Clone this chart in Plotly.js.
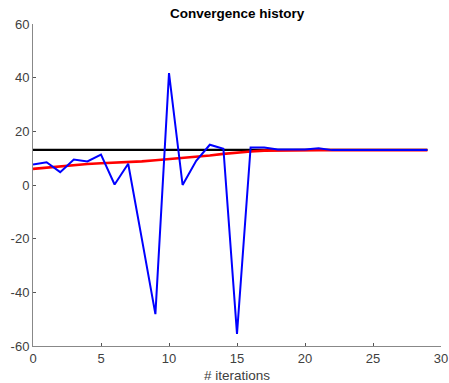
<!DOCTYPE html>
<html>
<head>
<meta charset="utf-8">
<script src="https://cdn.plot.ly/plotly-3.0.1.min.js"></script>
<style>html,body{margin:0;padding:0;background:#fff;}#chart{width:449px;height:383px;}</style>
</head>
<body>
<div id="chart"></div>
<script>
const iterations = [0,1,2,3,4,5,6,7,8,9,10,11,12,13,14,15,16,17,18,19,20,21,22,23,24,25,26,27,28,29];
const blueValues = [7.6,8.5,4.8,9.5,8.8,11.3,0.2,7.9,-20,-48.1,41.7,0,9,15.0,13.5,-55.5,14.0,14.0,13.2,13.2,13.2,13.7,13.0,13.0,13.0,13.0,13.0,13.0,13.0,13.0];
const redValues = [6.0,6.5,7.0,7.4,7.8,8.1,8.3,8.5,8.8,9.2,9.6,10.0,10.4,11.0,11.6,12.1,12.5,12.8,12.9,13.0,13.0,13.0,13.0,13.0,13.0,13.0,13.0,13.0,13.0,13.0];
const blackValues = iterations.map(() => 13.1);
const xTicks = [0,5,10,15,20,25,30];
const yTicks = [-60,-40,-20,0,20,40,60];

const traces = [
  {x: iterations, y: blackValues, mode: 'lines', line: {color: '#000000', width: 2.2}},
  {x: iterations, y: redValues, mode: 'lines', line: {color: '#ff0000', width: 2.6}},
  {x: iterations, y: blueValues, mode: 'lines', line: {color: '#0000ff', width: 2}}
];

const axisFont = {family: 'Liberation Sans, Arial, sans-serif', size: 13, color: '#404040'};
const layout = {
  width: 449, height: 383,
  margin: {l: 33, r: 8, t: 24, b: 37},
  paper_bgcolor: '#ffffff', plot_bgcolor: '#ffffff',
  showlegend: false,
  title: {text: '<b>Convergence history</b>', font: {family: 'Liberation Sans, Arial, sans-serif', size: 13.5, color: '#000'}, x: 0.528, xanchor: 'center', y: 0.966, yanchor: 'middle'},
  xaxis: {
    range: [0, 30], tickvals: xTicks, ticktext: xTicks.map(String),
    showgrid: false, zeroline: false, showline: true, linecolor: '#888888', linewidth: 1,
    ticks: 'inside', ticklen: 3, tickcolor: '#555', tickfont: axisFont,
    title: {text: '# iterations', font: {family: 'Liberation Sans, Arial, sans-serif', size: 13.5, color: '#404040'}, standoff: 6}
  },
  yaxis: {
    range: [-60, 60], tickvals: yTicks, ticktext: yTicks.map(String),
    showgrid: false, zeroline: false, showline: true, linecolor: '#888888', linewidth: 1,
    ticks: 'inside', ticklen: 3, tickcolor: '#555', tickfont: axisFont
  }
};
Plotly.newPlot('chart', traces, layout, {displayModeBar: false, staticPlot: true});
</script>
</body>
</html>
